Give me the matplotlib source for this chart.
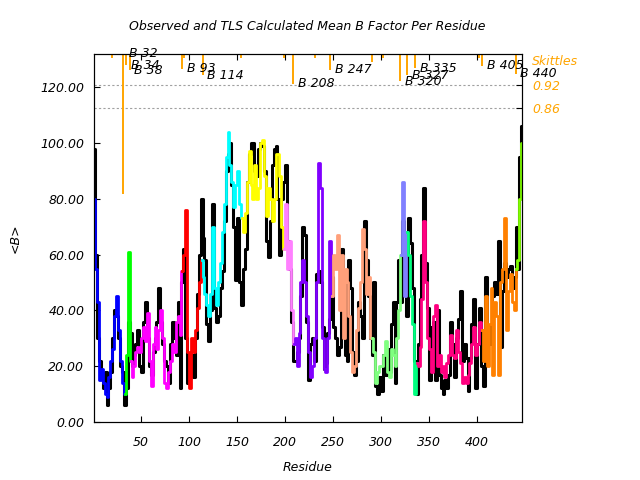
import numpy as np
import matplotlib
matplotlib.use("Agg")
import matplotlib.pyplot as plt

plt.rcParams["font.family"] = "DejaVu Sans"
plt.rcParams["font.style"] = "italic"

# residues sampled every 2 positions (1, 3, 5, ... 447)
residues = np.arange(1, 448, 2)

obs_b = [
    98, 60, 30, 22, 16, 12, 18, 6, 12, 18,
    30, 40, 38, 30, 20, 18, 6, 12, 36, 32,
    20, 24, 28, 33, 20, 18, 36, 43, 30, 20,
    17, 25, 30, 36, 48, 36, 28, 22, 20, 14,
    28, 36, 30, 24, 43, 12, 50, 62, 30, 14,
    22, 24, 16, 30, 46, 60, 80, 66, 58, 35,
    29, 40, 78, 41, 36, 38, 48, 54, 72, 90,
    96, 100, 85, 70, 51, 73, 50, 42, 55, 62,
    86, 96, 100, 100, 90, 88, 98, 100, 99, 90,
    65, 59, 72, 92, 98, 99, 80, 60, 80, 86,
    92, 65, 55, 36, 22, 22, 25, 30, 45, 70,
    67, 36, 15, 28, 30, 22, 53, 54, 50, 34,
    19, 21, 32, 37, 52, 34, 30, 24, 27, 62,
    50, 24, 22, 58, 48, 25, 17, 22, 43, 38,
    30, 72, 58, 45, 30, 24, 50, 13, 10, 16,
    11, 24, 17, 26, 18, 35, 43, 14, 43, 58,
    43, 72, 55, 38, 73, 64, 48, 22, 10, 28,
    44, 60, 84, 57, 41, 15, 34, 36, 15, 40,
    17, 12, 10, 15, 12, 17, 36, 28, 16, 30,
    37, 47, 22, 28, 23, 11, 23, 35, 44, 12,
    28, 41, 20, 13, 52, 30, 28, 35, 45, 50,
    46, 65, 27, 47, 57, 52, 55, 56, 48, 52,
    70, 55, 95, 106,
]

tls_b = [
    80, 55, 43, 15, 19, 14, 10, 9, 16, 22,
    26, 38, 45, 33, 22, 14, 10, 24, 61, 22,
    16, 20, 25, 27, 25, 30, 34, 29, 39, 22,
    13, 28, 34, 26, 33, 40, 30, 14, 12, 18,
    22, 28, 25, 36, 38, 31, 54, 60, 76, 25,
    12, 30, 25, 33, 41, 50, 58, 52, 46, 42,
    38, 46, 70, 48, 42, 50, 57, 68, 78, 95,
    104, 92, 86, 77, 85, 90, 78, 73, 68, 75,
    86, 97, 85, 80, 92, 80, 84, 100, 101, 88,
    74, 84, 80, 72, 80, 96, 96, 88, 70, 62,
    78, 55, 65, 40, 28, 30, 20, 32, 50, 58,
    50, 38, 25, 16, 20, 30, 50, 93, 84, 30,
    19, 18, 30, 65, 45, 60, 55, 67, 40, 60,
    30, 55, 50, 38, 25, 18, 20, 33, 41, 50,
    69, 62, 46, 52, 30, 30, 25, 14, 18, 20,
    20, 24, 29, 18, 16, 26, 24, 20, 30, 40,
    60, 86, 45, 68, 60, 45, 35, 10, 21, 20,
    27, 44, 72, 50, 30, 26, 18, 38, 42, 20,
    24, 18, 20, 16, 21, 24, 31, 24, 23, 33,
    25, 21, 14, 16, 14, 17, 21, 28, 34, 24,
    28, 36, 33, 22, 45, 20, 35, 48, 17, 43,
    38, 17, 50, 55, 73, 33, 47, 53, 43, 40,
    55, 58, 80, 100,
]

# TLS segments
seg_start = [1, 33, 39, 93, 113, 155, 199, 209, 249, 291, 321, 327, 337, 405, 441]
seg_end = [33, 39, 93, 113, 155, 199, 209, 249, 291, 321, 327, 337, 405, 441, 447]
seg_colors = ["#0000ff", "#00ff00", "#ff00ff", "#ff0000", "#00ffff",
              "#ffff00", "#ff80ff", "#8000ff", "#ffa07a", "#80ff80",
              "#8080ff", "#00ff80", "#ff0080", "#ff8000", "#80ff00"]

# skittles (segment boundary correlation)
skittle_res = [1, 20, 31, 32, 34, 38, 93, 95, 114, 154, 199, 208, 231,
               247, 290, 302, 320, 327, 335, 402, 405, 440]
skittle_corr = [0.99, 0.99, 0.641, 1.0, 0.971, 0.958, 0.961, 0.99, 0.945,
                0.988, 0.988, 0.923, 0.99, 0.959, 0.98, 0.99, 0.93, 0.945,
                0.963, 0.99, 0.969, 0.949]
label_res = [32, 34, 38, 93, 114, 208, 247, 320, 327, 335, 405, 440]

YMAX = 132


def skittle_y(v):
    return YMAX - (1 - np.asarray(v)) * 140


residues = np.asarray(residues)
obs_b = np.asarray(obs_b)
tls_b = np.asarray(tls_b)

fig = plt.figure(figsize=(6.4, 4.8), dpi=100)
ax = fig.add_axes([0.147, 0.121, 0.669, 0.767])

ax.plot(residues, obs_b, color="black", lw=2.2, drawstyle="steps-mid")
for s, e, c in zip(seg_start, seg_end, seg_colors):
    m = (residues >= s) & (residues <= e)
    ax.plot(residues[m], tls_b[m], color=c, lw=2.0, drawstyle="steps-mid")

for v in [0.92, 0.86]:
    ax.axhline(skittle_y(v), color="#a0a0a0", lw=0.8, ls=(0, (2, 2)))

ax.vlines(skittle_res, skittle_y(skittle_corr), YMAX, color="orange", lw=1.4)
for r in label_res:
    v = skittle_corr[skittle_res.index(r)]
    ax.annotate(f"B {r}", xy=(r, skittle_y(v)), xytext=(3.5, 0),
                textcoords="offset points", ha="left", va="center",
                fontsize=9, annotation_clip=False)

ax.set_xlim(1, 447)
ax.set_ylim(0, YMAX)
ax.set_xticks(range(50, 401, 50))
ax.set_yticks(range(0, 121, 20))
ax.set_yticklabels([f"{v:.2f}" for v in range(0, 121, 20)])
ax.tick_params(direction="in", top=True, right=True, length=4, labelsize=9)
ax.tick_params(axis="x", pad=10)
ax.tick_params(axis="y", pad=7)

ax2 = ax.twinx()
ax2.set_ylim(0, YMAX)
ax2.set_yticks(skittle_y([0.92, 0.86]))
ax2.set_yticklabels(["0.92", "0.86"], color="orange")
ax2.tick_params(direction="in", length=4, labelsize=9, pad=7)
ax2.annotate("Skittles", xy=(1, skittle_y(0.98)), xycoords=("axes fraction", "data"),
             xytext=(7, 0), textcoords="offset points", va="center",
             color="orange", fontsize=9)

fig.text(0.48, 0.944, "Observed and TLS Calculated Mean B Factor Per Residue",
         ha="center", va="center", fontsize=9)
fig.text(0.024, 0.504, "<B>", rotation=90, ha="center", va="center", fontsize=9)
fig.text(0.48, 0.027, "Residue", ha="center", va="center", fontsize=9)

fig.savefig("out.png", dpi=100)
